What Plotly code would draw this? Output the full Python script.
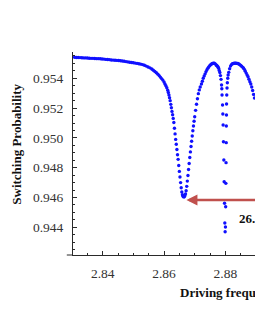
import plotly.graph_objects as go

# ---- data ----
freq_ghz = [
    2.8302, 2.8308, 2.8314, 2.8320, 2.8326, 2.8332, 2.8338, 2.8344, 2.8350, 2.8356,
    2.8362, 2.8368, 2.8374, 2.8380, 2.8386, 2.8392, 2.8398, 2.8404, 2.8410, 2.8416,
    2.8422, 2.8428, 2.8434, 2.8440, 2.8446, 2.8452, 2.8458, 2.8464, 2.8470, 2.8476,
    2.8482, 2.8488, 2.8494, 2.8500, 2.8506, 2.8512, 2.8518, 2.8524,
    2.8530, 2.8536, 2.8542, 2.8548, 2.8554, 2.8560, 2.8565, 2.8570, 2.8575, 2.8580,
    2.8584, 2.8588, 2.8592, 2.8596, 2.8600, 2.8603, 2.8606, 2.8609, 2.8612, 2.8614,
    2.8616, 2.8618, 2.8620, 2.8622, 2.8624, 2.8626, 2.8628, 2.8630, 2.8632, 2.8634,
    2.8636, 2.8638, 2.8640, 2.8642, 2.8644, 2.8646, 2.8648, 2.8650, 2.8652, 2.8654,
    2.8656, 2.8658, 2.8660, 2.8662, 2.8664, 2.8666, 2.8668, 2.8670, 2.8672, 2.8674,
    2.8676, 2.8678, 2.8680, 2.8682, 2.8684, 2.8686, 2.8688, 2.8690, 2.8692, 2.8694,
    2.8696, 2.8698, 2.8700, 2.8703, 2.8706, 2.8709, 2.8712, 2.8715, 2.8718, 2.8722,
    2.8725, 2.8728, 2.8731, 2.8734, 2.8737, 2.8740, 2.8743, 2.8746, 2.8749, 2.8752,
    2.8755, 2.8758, 2.8761, 2.8764, 2.8767, 2.8770, 2.8772, 2.8774, 2.8776, 2.8778,
    2.8780, 2.8782, 2.8784, 2.8786, 2.87876, 2.87885, 2.87892, 2.87909, 2.87918, 2.87928,
    2.87938, 2.87951, 2.87961, 2.87974, 2.87983, 2.87993, 2.88003, 2.88010, 2.88016, 2.88023,
    2.88029, 2.88032, 2.88036, 2.88039, 2.88046, 2.88055, 2.88065, 2.88078, 2.88091, 2.8811,
    2.8814, 2.8817, 2.8820, 2.8823, 2.8826, 2.8829, 2.8832, 2.8835, 2.8838, 2.8841,
    2.8844, 2.8847, 2.8850, 2.8853, 2.8856, 2.8859, 2.8862, 2.8865, 2.8868, 2.8871,
    2.8874, 2.8877, 2.8880, 2.8883, 2.8886, 2.8889, 2.8892, 2.8895, 2.8898,
]
switch_prob = [
    0.95541, 0.95541, 0.95540, 0.95540, 0.95539, 0.95538, 0.95537, 0.95537, 0.95536, 0.95535,
    0.95534, 0.95534, 0.95533, 0.95532, 0.95532, 0.95531, 0.95530, 0.95529, 0.95527, 0.95526,
    0.95525, 0.95523, 0.95522, 0.95521, 0.95520, 0.95519, 0.95518, 0.95516, 0.95514, 0.95512,
    0.95510, 0.95508, 0.95506, 0.95504, 0.95502, 0.95500, 0.95498, 0.95495,
    0.95492, 0.95488, 0.95482, 0.95476, 0.95470, 0.95462, 0.95454, 0.95446, 0.95437, 0.95428,
    0.95418, 0.95408, 0.95398, 0.95388, 0.95375, 0.95362, 0.95350, 0.95337, 0.95320, 0.95305,
    0.95288, 0.95270, 0.95250, 0.95225, 0.95202, 0.95178, 0.95155, 0.95131, 0.95103, 0.95065,
    0.95027, 0.94990, 0.94957, 0.94922, 0.94887, 0.94856, 0.94815, 0.94775, 0.94738, 0.94700,
    0.94665, 0.94637, 0.94618, 0.94608, 0.94604, 0.94605, 0.94611, 0.94624, 0.94645, 0.94675,
    0.94710, 0.94748, 0.94788, 0.94828, 0.94868, 0.94906, 0.94942, 0.94978, 0.95013, 0.95048,
    0.95080, 0.95112, 0.95142, 0.95185, 0.95226, 0.95263, 0.95297, 0.95322, 0.95342, 0.95362,
    0.95380, 0.95400, 0.95416, 0.95430, 0.95445, 0.95458, 0.95468, 0.95477, 0.95485, 0.95491,
    0.95496, 0.95499, 0.95501, 0.95501, 0.95497, 0.95490, 0.95486, 0.95481, 0.95477, 0.95467,
    0.95453, 0.95439, 0.95418, 0.95393, 0.95355, 0.95330, 0.95288, 0.95221, 0.95160, 0.95087,
    0.94974, 0.94852, 0.94706, 0.94561, 0.94429, 0.94370, 0.94402, 0.94538, 0.94695, 0.94834,
    0.94968, 0.95080, 0.95154, 0.95228, 0.95288, 0.95335, 0.95370, 0.95400, 0.95422, 0.95440,
    0.95464, 0.95482, 0.95492, 0.95498, 0.95499, 0.95501, 0.95502, 0.95501, 0.95500, 0.95499,
    0.95496, 0.95492, 0.95487, 0.95481, 0.95475, 0.95469, 0.95460, 0.95448, 0.95435, 0.95422,
    0.95410, 0.95394, 0.95377, 0.95362, 0.95342, 0.95318, 0.95292, 0.95268, 0.95244,
]

x_tick_vals = [2.84, 2.86, 2.88]
x_tick_text = ["2.84", "2.86", "2.88"]
y_tick_vals = [0.944, 0.946, 0.948, 0.950, 0.952, 0.954]
y_tick_text = ["0.944", "0.946", "0.948", "0.950", "0.952", "0.954"]

arrow_left_ghz = 2.8673
arrow_right_ghz = 2.8938
arrow_level = 0.94583
splitting_label = "26.5 MHz"
splitting_label_pos = (2.8839, 0.94456)

x_title = "Driving frequency (GHz)"
y_title = "Switching Probability"

SERIF = "Liberation Serif, Times New Roman, serif"
AXIS_COL = "#2a2a2a"
TICK_COL = "#333333"
ARROW_COL = "#C0504D"

fig = go.Figure()
fig.add_trace(go.Scatter(
    x=freq_ghz, y=switch_prob, mode="markers",
    marker=dict(color="#1010ff", size=3.4, line=dict(width=0)),
    showlegend=False, cliponaxis=False,
))

fig.update_layout(
    width=255, height=330,
    margin=dict(l=73, r=0, t=52, b=75, pad=0),
    paper_bgcolor="white", plot_bgcolor="white",
    showlegend=False,
    xaxis=dict(
        range=[2.83031, 2.88967], showgrid=False, zeroline=False,
        showline=True, linecolor=AXIS_COL, linewidth=1,
        tickmode="array", tickvals=x_tick_vals, ticktext=x_tick_text,
        ticks="inside", ticklen=4, tickwidth=1, tickcolor=AXIS_COL,
        minor=dict(dtick=0.005, tick0=2.84, ticks="inside", ticklen=2,
                   tickcolor=AXIS_COL, showgrid=False),
        tickfont=dict(family=SERIF, size=13.5, color=TICK_COL),
        ticklabelstandoff=6,
    ),
    yaxis=dict(
        range=[0.942141, 0.955765], showgrid=False, zeroline=False,
        showline=True, linecolor=AXIS_COL, linewidth=1,
        tickmode="array", tickvals=y_tick_vals, ticktext=y_tick_text,
        ticks="inside", ticklen=4, tickwidth=1, tickcolor=AXIS_COL,
        minor=dict(dtick=0.0005, tick0=0.944, ticks="inside", ticklen=2,
                   tickcolor=AXIS_COL, showgrid=False),
        tickfont=dict(family=SERIF, size=13.5, color=TICK_COL),
        ticklabelstandoff=6,
    ),
)

# x-axis line overhang to the left of the y axis
fig.add_shape(type="line", xref="paper", yref="paper",
              x0=-0.034, x1=0, y0=0, y1=0,
              line=dict(color=AXIS_COL, width=1))

# double-headed splitting arrow
fig.add_annotation(
    x=arrow_left_ghz, y=arrow_level, xref="x", yref="y",
    ax=arrow_right_ghz, ay=arrow_level, axref="x", ayref="y",
    text="", showarrow=True, arrowhead=2, arrowside="end+start",
    arrowsize=0.85, arrowwidth=2.6, arrowcolor=ARROW_COL,
)
fig.add_annotation(
    x=splitting_label_pos[0], y=splitting_label_pos[1], xref="x", yref="y",
    text=splitting_label, showarrow=False, xanchor="left", yanchor="middle",
    font=dict(family=SERIF, size=13, color="#111111", weight="bold"),
)

# axis titles
fig.add_annotation(
    x=-0.309, y=0.547, xref="paper", yref="paper",
    text=y_title, showarrow=False, textangle=-90,
    xanchor="center", yanchor="middle",
    font=dict(family=SERIF, size=13, color="#111111", weight="bold"),
)
fig.add_annotation(
    x=0.577, y=-0.185, xref="paper", yref="paper",
    text=x_title, showarrow=False, xanchor="left", yanchor="middle",
    font=dict(family=SERIF, size=13, color="#111111", weight="bold"),
)

fig.write_html(
    "out.html",
    config={"displayModeBar": False},
    post_script="document.body.style.margin='0';document.body.style.overflow='hidden';",
)
